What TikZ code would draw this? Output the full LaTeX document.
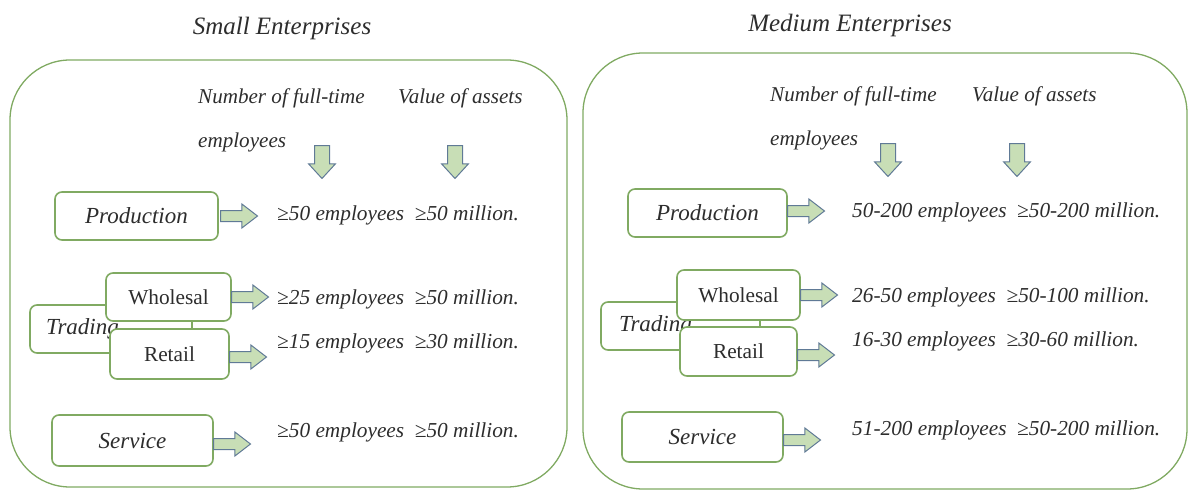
\documentclass[tikz,border=0pt]{standalone}
\usepackage{fontspec}
\setmainfont{Liberation Serif}
\usetikzlibrary{shapes.arrows}
\definecolor{boxgreen}{RGB}{128,170,98}
\definecolor{arrfill}{RGB}{200,222,182}
\definecolor{arrline}{RGB}{96,122,150}
\definecolor{txt}{RGB}{45,45,45}
\tikzset{
  panel/.style={draw=boxgreen, line width=1.3pt, rounded corners=60pt},
  catbox/.style={draw=boxgreen, line width=1.6pt, rounded corners=7pt, fill=white,
    text=txt, font=\fontsize{23}{27}\selectfont\itshape, inner sep=0pt},
  subbox/.style={draw=boxgreen, line width=1.6pt, rounded corners=7pt, fill=white,
    text=txt, font=\fontsize{21.3}{25}\selectfont, inner sep=0pt},
  rarrow/.style={single arrow, draw=arrline, fill=arrfill, line width=1pt,
    minimum height=37pt, inner xsep=0pt, inner ysep=5pt, single arrow head extend=6.5pt,
    single arrow tip angle=75, anchor=tail},
  darrow/.style={single arrow, draw=arrline, fill=arrfill, line width=1pt,
    shape border rotate=270, minimum height=33pt, inner xsep=7pt, inner ysep=0pt,
    single arrow head extend=6pt, single arrow tip angle=85, anchor=tail},
  data/.style={anchor=west, text=txt, font=\fontsize{21.3}{25}\selectfont\itshape, inner sep=0pt},
  head/.style={anchor=west, text=txt, font=\fontsize{21.1}{25}\selectfont\itshape, inner sep=0pt},
  title/.style={text=txt, font=\fontsize{25}{29}\selectfont\itshape, inner sep=0pt},
}
\newcommand{\gapsp}{\hspace{0.5em}}
\begin{document}
\begin{tikzpicture}[x=1pt, y=-1pt]
\useasboundingbox (0,0) rectangle (1195,490);

% ---------------- Small enterprises ----------------
\node[title] (tS) at (282,28) {Small Enterprises};
\draw[panel] (10,60) rectangle (567,487);

\node[head] (hS1) at (198,98) {Number of full-time};
\node[head] (hS2) at (198,142) {employees};
\node[head] (hS3) at (398,98) {Value of assets};
\node[darrow] (dS1) at (322,145) {};
\node[darrow] (dS2) at (455,145) {};

\node[catbox, minimum width=163pt, minimum height=48pt] (prodS) at (136.5,216) {Production};
\node[rarrow] (aprodS) at (220,216) {};
\node[data] (vprodS) at (277,215) {≥50 employees\gapsp≥50 million.};

\node[catbox, inner xsep=16pt, text width=130pt, align=left, minimum height=48pt] (tradS) at (111,329) {Trading};
\node[subbox, minimum width=125pt, minimum height=48pt] (wholS) at (168.5,297) {Wholesal};
\node[subbox, minimum width=119pt, minimum height=50pt] (retS) at (169.5,354) {Retail};
\node[rarrow] (awholS) at (231,297) {};
\node[rarrow] (aretS) at (229,357) {};
\node[data] (vwholS) at (277,299) {≥25 employees\gapsp≥50 million.};
\node[data] (vretS) at (277,343) {≥15 employees\gapsp≥30 million.};

\node[catbox, minimum width=161pt, minimum height=51pt] (servS) at (132.5,440.5) {Service};
\node[rarrow] (aservS) at (213,444) {};
\node[data] (vservS) at (277,432) {≥50 employees\gapsp≥50 million.};

% ---------------- Medium enterprises ----------------
\node[title] (tM) at (850,25) {Medium Enterprises};
\draw[panel] (583,53) rectangle (1187,489);

\node[head] (hM1) at (770,96) {Number of full-time};
\node[head] (hM2) at (770,140) {employees};
\node[head] (hM3) at (972,96) {Value of assets};
\node[darrow] (dM1) at (888,143) {};
\node[darrow] (dM2) at (1017,143) {};

\node[catbox, minimum width=159pt, minimum height=48pt] (prodM) at (707.5,213) {Production};
\node[rarrow] (aprodM) at (787,211) {};
\node[data] (vprodM) at (852,212) {50-200 employees\gapsp≥50-200 million.};

\node[catbox, inner xsep=18pt, text width=123pt, align=left, minimum height=48pt] (tradM) at (680.5,326) {Trading};
\node[subbox, minimum width=123pt, minimum height=50pt] (wholM) at (738.5,295) {Wholesal};
\node[subbox, minimum width=117pt, minimum height=49pt] (retM) at (738.5,351.5) {Retail};
\node[rarrow] (awholM) at (800,295) {};
\node[rarrow] (aretM) at (797,355) {};
\node[data] (vwholM) at (852,297) {26-50 employees\gapsp≥50-100 million.};
\node[data] (vretM) at (852,341) {16-30 employees\gapsp≥30-60 million.};

\node[catbox, minimum width=161pt, minimum height=50pt] (servM) at (702.5,437) {Service};
\node[rarrow] (aservM) at (783,440) {};
\node[data] (vservM) at (852,430) {51-200 employees\gapsp≥50-200 million.};
\end{tikzpicture}
\end{document}
